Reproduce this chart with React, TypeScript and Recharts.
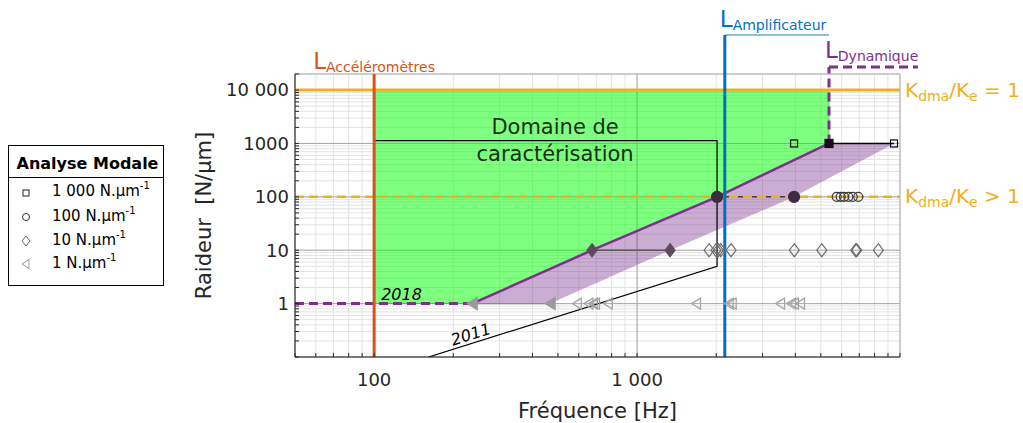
import React from 'react';
import {
  ComposedChart, XAxis, YAxis, CartesianGrid, Area, Line, Scatter,
  ReferenceLine, ReferenceDot, Label,
} from 'recharts';

const FONT = '"DejaVu Sans", Verdana, sans-serif';
const TXT = '#262626';
const C_ACCEL = '#D95319';
const C_AMPLI = '#0072BD';
const C_DYN = '#7E2F8E';
const C_KRATIO = '#EDB120';

// ---- axes ----
const X_DOMAIN = [50, 10000];
const Y_DOMAIN = [0.1, 20000];
const X_MAJOR = [100, 1000];
const X_MAJOR_LABELS = ['100', '1 000'];
const X_ALL = [50, 60, 70, 80, 90, 100, 200, 300, 400, 500, 600, 700, 800, 900,
  1000, 2000, 3000, 4000, 5000, 6000, 7000, 8000, 9000, 10000];
const Y_MAJOR = [1, 10, 100, 1000, 10000];
const Y_MAJOR_LABELS = ['1', '10', '100', '1000', '10 000'];
const Y_ALL = [0.1, 0.2, 0.3, 0.4, 0.5, 0.6, 0.7, 0.8, 0.9,
  1, 2, 3, 4, 5, 6, 7, 8, 9, 10, 20, 30, 40, 50, 60, 70, 80, 90,
  100, 200, 300, 400, 500, 600, 700, 800, 900,
  1000, 2000, 3000, 4000, 5000, 6000, 7000, 8000, 9000, 10000, 20000];

// ---- limits ----
const F_ACCEL = 100;
const F_AMPLI = 2156;
const F_DYN = 5370;
const K_EQ = 10000;   // Kdma/Ke = 1
const K_GT = 100;     // Kdma/Ke > 1
const K_DYN_TOP = 27000;
const F_DYN_END = 11700;
const K_AMPLI_TOP = 107000;

// ---- frontier (filled markers) ----
const K_LEVELS = [1, 10, 100, 1000];
const FRONT_UP_F = [236, 674, 2015, 5370];
const FRONT_LOW_F = [467, 1335, 3954, 9489];

// ---- 2011 domain ----
const DOM_2011_F = [100, 2015, 2015, 161];
const DOM_2011_K = [1130, 1130, 5, 0.1];

// ---- measured points (open markers) ----
const SQUARE_F = [3954, 9489];           // 1000 N/um
const CIRCLE_F = [5744, 5949, 6125, 6360, 6611, 6940]; // 100
const DIAMOND_F = [1879, 1997, 2038, 2081, 2278, 3963, 5040, 6786, 6845, 8270]; // 10
const TRIANGLE_F = [590, 653, 679, 692, 774, 1676, 2230, 2290, 3498, 3850, 3950, 4167]; // 1

const LEGEND_TITLE = 'Analyse Modale';
const LEGEND_LABELS = ['1 000 N.µm', '100 N.µm', '10 N.µm', '1 N.µm'];

// ---- derived data ----
const pts = (fs: number[], ks: number[]) => fs.map((x, i) => ({ x, y: ks[i] }));
const level = (fs: number[], k: number) => fs.map((x) => ({ x, y: k }));

const FRONT_UP = pts(FRONT_UP_F, K_LEVELS);
const FRONT_LOW = pts(FRONT_LOW_F, K_LEVELS);
const GREEN_POLY = [
  { x: F_ACCEL, y: K_EQ },
  { x: F_DYN, y: K_EQ },
  ...[...FRONT_UP].reverse(),
  { x: F_ACCEL, y: K_LEVELS[0] },
];
const BAND_POLY = [
  ...FRONT_UP,
  ...[...FRONT_LOW].reverse(),
  FRONT_UP[0],
];
const DOM_2011 = pts(DOM_2011_F, DOM_2011_K);

const FILLED_SQ = [{ x: FRONT_UP_F[3], y: 1000 }];
const FILLED_CI = [{ x: FRONT_UP_F[2], y: 100 }, { x: FRONT_LOW_F[2], y: 100 }];
const FILLED_DI = [{ x: FRONT_UP_F[1], y: 10 }, { x: FRONT_LOW_F[1], y: 10 }];
const FILLED_TR = [{ x: FRONT_UP_F[0], y: 1 }, { x: FRONT_LOW_F[0], y: 1 }];

const majorLabel = (vals: number[], labels: string[]) => (v: number) => {
  const i = vals.findIndex((m) => Math.abs(m - v) < 1e-9 * Math.max(1, m));
  return i >= 0 ? labels[i] : '';
};

// ---- marker shapes ----
const squareShape = (s: number, fill: string, stroke: string) => (p: any) => (
  <rect x={p.cx - s / 2} y={p.cy - s / 2} width={s} height={s} fill={fill} stroke={stroke} strokeWidth={1.2} />
);
const circleShape = (r: number, fill: string, stroke: string) => (p: any) => (
  <circle cx={p.cx} cy={p.cy} r={r} fill={fill} stroke={stroke} strokeWidth={1.2} />
);
const diamondShape = (w: number, h: number, fill: string, stroke: string) => (p: any) => (
  <polygon points={`${p.cx},${p.cy - h} ${p.cx + w},${p.cy} ${p.cx},${p.cy + h} ${p.cx - w},${p.cy}`}
    fill={fill} stroke={stroke} strokeWidth={1.2} />
);
const triShape = (w: number, h: number, fill: string, stroke: string) => (p: any) => (
  <polygon points={`${p.cx - w / 2},${p.cy} ${p.cx + w / 2},${p.cy - h} ${p.cx + w / 2},${p.cy + h}`}
    fill={fill} stroke={stroke} strokeWidth={1.2} />
);

const vbOf = (p: any) => p.viewBox || { x: 0, y: 0, width: 0, height: 0 };

const subLabel = (main: string, sub: string, color: string, dx: number, dy: number) => (p: any) => {
  const vb = vbOf(p);
  return (
    <text x={vb.x + dx} y={vb.y + dy} fill={color} fontFamily={FONT}>
      <tspan fontSize={23}>{main}</tspan>
      <tspan fontSize={14} dy={3}>{sub}</tspan>
    </text>
  );
};

const kLabel = (tail: string) => (p: any) => {
  const vb = vbOf(p);
  return (
    <text x={vb.x + vb.width + 5} y={vb.y + 6.5} fill={C_KRATIO} fontFamily={FONT} fontSize={20}>
      <tspan>K</tspan>
      <tspan fontSize={14} dy={4}>dma</tspan>
      <tspan dy={-4}>/K</tspan>
      <tspan fontSize={14} dy={4}>e</tspan>
      <tspan dy={-4}>{tail}</tspan>
    </text>
  );
};

function LegendBox() {
  const markerY = [193, 217, 241, 264];
  const textY = [196, 220.5, 244.5, 268];
  const mx = 26;
  const markers = [
    <rect key="s" x={mx - 3} y={markerY[0] - 3} width={6} height={6} fill="none" stroke="#222" strokeWidth={1} />,
    <circle key="c" cx={mx} cy={markerY[1]} r={3.5} fill="none" stroke="#333" strokeWidth={1} />,
    <polygon key="d" points={`${mx},${markerY[2] - 5} ${mx + 4},${markerY[2]} ${mx},${markerY[2] + 5} ${mx - 4},${markerY[2]}`} fill="none" stroke="#666" strokeWidth={1} />,
    <polygon key="t" points={`${mx - 4},${markerY[3]} ${mx + 3},${markerY[3] - 4.5} ${mx + 3},${markerY[3] + 4.5}`} fill="none" stroke="#999" strokeWidth={1} />,
  ];
  return (
    <svg width={175} height={300} style={{ position: 'absolute', left: 0, top: 0 }}>
      <rect x={8.5} y={145.5} width={155} height={140} fill="#fff" stroke="#000" strokeWidth={1} />
      <line x1={8.5} x2={163.5} y1={177.5} y2={177.5} stroke="#000" strokeWidth={1} />
      <text x={87.5} y={168.5} textAnchor="middle" fontWeight="bold" fontSize={16} fontFamily={FONT} fill="#000">
        {LEGEND_TITLE}
      </text>
      {markers}
      {LEGEND_LABELS.map((l, i) => (
        <text key={l} x={52} y={textY[i]} fontSize={15} fontFamily={FONT} fill="#000">
          {l}
          <tspan fontSize={10} dy={-7}>-1</tspan>
        </text>
      ))}
    </svg>
  );
}

const tickStyle = { fill: TXT, fontSize: 18, fontFamily: FONT };

export default function App() {
  return (
    <div style={{ position: 'absolute', left: 0, top: 0, width: 1023, height: 423, background: '#fff' }}>
      <ComposedChart width={1023} height={423} margin={{ top: 74, right: 123, bottom: 0, left: 200 }}>
        <XAxis xAxisId="x" dataKey="x" type="number" scale="log" domain={X_DOMAIN} allowDataOverflow
          ticks={X_ALL} interval={0} tickFormatter={majorLabel(X_MAJOR, X_MAJOR_LABELS)}
          tickSize={-4} tickMargin={20} height={66} tick={tickStyle}
          stroke={TXT} axisLine={{ stroke: TXT, strokeWidth: 1 }} tickLine={{ stroke: TXT }}>
          <Label content={(p: any) => {
            const vb = p.viewBox || { x: 295, y: 357, width: 605, height: 66 };
            return (
              <text x={vb.x + vb.width / 2} y={vb.y + 61} textAnchor="middle" fontSize={21} fontFamily={FONT} fill={TXT}>
                Fréquence [Hz]
              </text>
            );
          }} />
        </XAxis>
        <XAxis xAxisId="xt" orientation="top" dataKey="x" type="number" scale="log" domain={X_DOMAIN} allowDataOverflow
          ticks={X_ALL} interval={0} tick={false} tickSize={-4} height={0}
          axisLine={{ stroke: TXT, strokeWidth: 1 }} tickLine={{ stroke: TXT }} />
        <XAxis xAxisId="xg" hide dataKey="x" type="number" scale="log" domain={X_DOMAIN} allowDataOverflow
          ticks={X_MAJOR} interval={0} />
        <YAxis yAxisId="y" dataKey="y" type="number" scale="log" domain={Y_DOMAIN} allowDataOverflow
          ticks={Y_ALL} interval={0} tickFormatter={majorLabel(Y_MAJOR, Y_MAJOR_LABELS)}
          tickSize={-4} tickMargin={10} width={95} tick={tickStyle}
          axisLine={{ stroke: TXT, strokeWidth: 1 }} tickLine={{ stroke: TXT }}>
          <Label content={(p: any) => {
            const vb = p.viewBox || { x: 200, y: 74, width: 95, height: 283 };
            const cx = vb.x + 11;
            const cy = vb.y + vb.height / 2;
            return (
              <text x={cx} y={cy} transform={`rotate(-90 ${cx} ${cy})`} textAnchor="middle" fontSize={21}
                fontFamily={FONT} fill={TXT} style={{ whiteSpace: 'pre' }}>
                {'Raideur\u00a0\u00a0[N/µm]'}
              </text>
            );
          }} />
        </YAxis>
        <YAxis yAxisId="yr" orientation="right" dataKey="y" type="number" scale="log" domain={Y_DOMAIN} allowDataOverflow
          ticks={Y_ALL} interval={0} tick={false} tickSize={-4} width={0}
          axisLine={{ stroke: TXT, strokeWidth: 1 }} tickLine={{ stroke: TXT }} />
        <YAxis yAxisId="yg" hide dataKey="y" type="number" scale="log" domain={Y_DOMAIN} allowDataOverflow
          ticks={Y_MAJOR} interval={0} />

        <CartesianGrid xAxisId="x" yAxisId="y" stroke="#e3e3e3" strokeWidth={1} />
        <CartesianGrid xAxisId="xg" yAxisId="yg" stroke="#a9a9a9" strokeWidth={1} />

        {/* green characterisation domain */}
        <Area xAxisId="x" yAxisId="y" data={GREEN_POLY} dataKey="y" type="linear"
          fill="#00ff00" fillOpacity={0.5} stroke="#3fae3f" strokeWidth={1} strokeOpacity={0.7}
          isAnimationActive={false} dot={false} activeDot={false} />
        {/* purple band */}
        <Area xAxisId="x" yAxisId="y" data={BAND_POLY} dataKey="y" type="linear"
          fill={C_DYN} fillOpacity={0.4} stroke="none"
          isAnimationActive={false} dot={false} activeDot={false} />

        {/* level connectors */}
        <ReferenceLine xAxisId="x" yAxisId="y" segment={[FRONT_UP[0], FRONT_LOW[0]]} stroke="#8a8a8a" strokeWidth={1.2} />
        <ReferenceLine xAxisId="x" yAxisId="y" segment={[FRONT_UP[1], FRONT_LOW[1]]} stroke="#5a5a5a" strokeWidth={1.5} />
        <ReferenceLine xAxisId="x" yAxisId="y" segment={[FRONT_UP[2], FRONT_LOW[2]]} stroke="#4a3a4c" strokeWidth={1.5} />
        <ReferenceLine xAxisId="x" yAxisId="y" segment={[FRONT_UP[3], FRONT_LOW[3]]} stroke="#000" strokeWidth={1.5} />

        {/* Kdma/Ke lines */}
        <ReferenceLine xAxisId="x" yAxisId="y" y={K_EQ} stroke={C_KRATIO} strokeWidth={3}
          ifOverflow="visible" label={kLabel(' = 1')} />
        <ReferenceLine xAxisId="x" yAxisId="y" y={K_GT} stroke={C_KRATIO} strokeWidth={2.5} strokeDasharray="9 5"
          ifOverflow="visible" label={kLabel(' > 1')} />

        {/* 2018 dashed prolongation */}
        <ReferenceLine xAxisId="x" yAxisId="y" segment={[{ x: X_DOMAIN[0], y: 1 }, FRONT_UP[0]]}
          stroke={C_DYN} strokeWidth={3} strokeDasharray="9 5" />

        {/* 2011 domain outline */}
        <Line xAxisId="x" yAxisId="y" data={DOM_2011} dataKey="y" type="linear" stroke="#000" strokeWidth={1.2}
          dot={false} activeDot={false} isAnimationActive={false} />
        {/* 2018 frontier */}
        <Line xAxisId="x" yAxisId="y" data={FRONT_UP} dataKey="y" type="linear" stroke={C_DYN} strokeWidth={2.5}
          dot={false} activeDot={false} isAnimationActive={false} />

        {/* markers */}
        <Scatter xAxisId="x" yAxisId="y" data={level(TRIANGLE_F, 1)} dataKey="y" isAnimationActive={false}
          shape={triShape(9, 5.5, 'none', '#a3a3a3')} />
        <Scatter xAxisId="x" yAxisId="y" data={level(DIAMOND_F, 10)} dataKey="y" isAnimationActive={false}
          shape={diamondShape(5, 6.5, 'none', '#6e6e6e')} />
        <Scatter xAxisId="x" yAxisId="y" data={level(CIRCLE_F, 100)} dataKey="y" isAnimationActive={false}
          shape={circleShape(4.5, 'none', '#3a3a3a')} />
        <Scatter xAxisId="x" yAxisId="y" data={level(SQUARE_F, 1000)} dataKey="y" isAnimationActive={false}
          shape={squareShape(7, 'none', '#000')} />
        <Scatter xAxisId="x" yAxisId="y" data={FILLED_TR} dataKey="y" isAnimationActive={false}
          shape={triShape(10, 6, '#9a9a9a', '#9a9a9a')} />
        <Scatter xAxisId="x" yAxisId="y" data={FILLED_DI} dataKey="y" isAnimationActive={false}
          shape={diamondShape(5, 6.5, '#5e4a60', '#5e4a60')} />
        <Scatter xAxisId="x" yAxisId="y" data={FILLED_CI} dataKey="y" isAnimationActive={false}
          shape={circleShape(5.5, '#3d2b40', '#3d2b40')} />
        <Scatter xAxisId="x" yAxisId="y" data={FILLED_SQ} dataKey="y" isAnimationActive={false}
          shape={squareShape(8, '#1a0d1a', '#1a0d1a')} />

        {/* limits */}
        <ReferenceLine xAxisId="x" yAxisId="y" x={F_ACCEL} stroke={C_ACCEL} strokeWidth={3}
          label={subLabel('L', 'Accéléromètres', C_ACCEL, -61, -5)} />
        <ReferenceLine xAxisId="x" yAxisId="y" segment={[{ x: F_AMPLI, y: Y_DOMAIN[0] }, { x: F_AMPLI, y: K_AMPLI_TOP }]}
          stroke={C_AMPLI} strokeWidth={3} ifOverflow="visible" />
        <ReferenceLine xAxisId="x" yAxisId="y" segment={[{ x: F_AMPLI, y: K_AMPLI_TOP }, { x: F_DYN, y: K_AMPLI_TOP }]}
          stroke={C_AMPLI} strokeOpacity={0.6} strokeWidth={1.5} ifOverflow="visible"
          label={subLabel('L', 'Amplificateur', C_AMPLI, -5, -8)} />
        <ReferenceLine xAxisId="x" yAxisId="y" segment={[{ x: F_DYN, y: 1000 }, { x: F_DYN, y: K_DYN_TOP }]}
          stroke={C_DYN} strokeWidth={3} strokeDasharray="9 5" ifOverflow="visible" />
        <ReferenceLine xAxisId="x" yAxisId="y" segment={[{ x: F_DYN, y: K_DYN_TOP }, { x: F_DYN_END, y: K_DYN_TOP }]}
          stroke={C_DYN} strokeWidth={3} strokeDasharray="9 5" ifOverflow="visible"
          label={subLabel('L', 'Dynamique', C_DYN, -4, -9)} />

        {/* text annotations */}
        <ReferenceDot xAxisId="x" yAxisId="y" x={DOM_2011_F[1]} y={DOM_2011_K[1]} r={0} fill="none" stroke="none"
          label={(p: any) => {
            const vb = vbOf(p);
            const cx = vb.x + vb.width / 2 - 162;
            const cy = vb.y + vb.height / 2;
            return (
              <text textAnchor="middle" fontSize={21} fontFamily={FONT} fill="#1c2e1c">
                <tspan x={cx} y={cy - 6.5}>Domaine de</tspan>
                <tspan x={cx} y={cy + 20.7}>caractérisation</tspan>
              </text>
            );
          }} />
        <ReferenceDot xAxisId="x" yAxisId="y" x={F_ACCEL} y={1} r={0} fill="none" stroke="none"
          label={(p: any) => {
            const vb = vbOf(p);
            return (
              <text x={vb.x + vb.width / 2 + 7} y={vb.y + vb.height / 2 - 4} fontSize={16} fontStyle="italic"
                fontFamily={FONT} fill="#000">2018</text>
            );
          }} />
        <ReferenceDot xAxisId="x" yAxisId="y" x={DOM_2011_F[3]} y={DOM_2011_K[3]} r={0} fill="none" stroke="none"
          label={(p: any) => {
            const vb = vbOf(p);
            const tx = vb.x + vb.width / 2 + 44;
            const ty = vb.y + vb.height / 2 - 17.5;
            return (
              <text x={tx} y={ty} transform={`rotate(-17.6 ${tx} ${ty})`} textAnchor="middle" fontSize={16}
                fontStyle="italic" fontFamily={FONT} fill="#000">2011</text>
            );
          }} />
      </ComposedChart>
      <LegendBox />
    </div>
  );
}
